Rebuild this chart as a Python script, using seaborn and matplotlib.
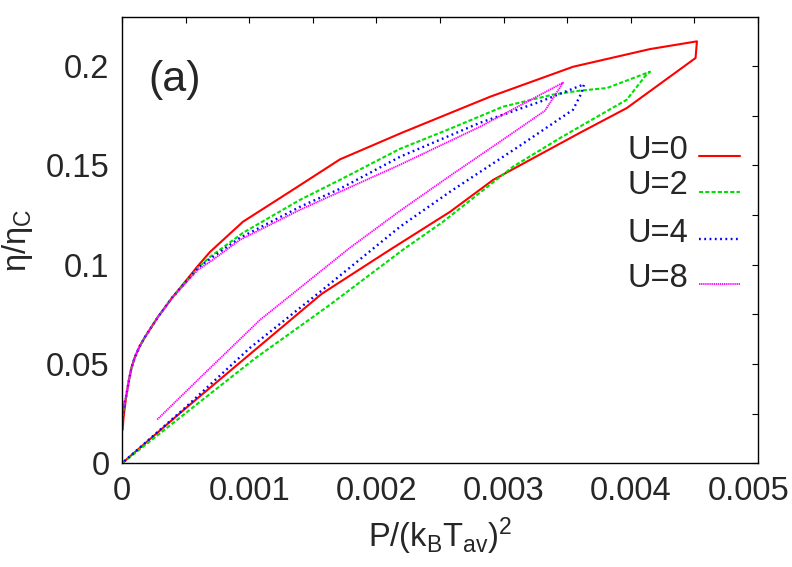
import numpy as np
import pandas as pd
import seaborn as sns
import matplotlib
matplotlib.use("Agg")
from matplotlib import pyplot as plt
from matplotlib.ticker import MultipleLocator, FuncFormatter, FormatStrFormatter

# dados: laços eficiencia x potencia
p_u0 = [0.0000047, 0.0000118, 0.0000314, 0.000055, 0.000075, 0.000102, 0.00014, 0.000181,
        0.000283, 0.000393, 0.000495, 0.000597, 0.000692, 0.000951, 0.001344, 0.001714,
        0.002201, 0.002893, 0.003546, 0.004151, 0.00452, 0.004509, 0.003968, 0.003601,
        0.002919, 0.002579, 0.002107, 0.00157, 0.001046, 0.000495, 0.0]
eta_u0 = [0.0168, 0.0228, 0.0329, 0.0420, 0.0482, 0.0536, 0.0590, 0.0636,
          0.0737, 0.0833, 0.0913, 0.0994, 0.1064, 0.1216, 0.1377, 0.1530,
          0.1664, 0.1845, 0.1996, 0.2085, 0.2124, 0.2040, 0.1788, 0.1664,
          0.1427, 0.1266, 0.1075, 0.0853, 0.0571, 0.0274, 0.0]

p_u2 = [0.0000039, 0.0000157, 0.0000314, 0.000055, 0.000075, 0.000102, 0.00014, 0.000181,
        0.000283, 0.000393, 0.000495, 0.000597, 0.000692, 0.000951, 0.001399, 0.001714,
        0.002186, 0.002579, 0.002995, 0.003388, 0.003601, 0.003813, 0.004151, 0.004112,
        0.003968, 0.003443, 0.003074, 0.002524, 0.002209, 0.001635, 0.001046, 0.0]
eta_u2 = [0.0228, 0.0294, 0.0334, 0.0420, 0.0482, 0.0536, 0.0590, 0.0636,
          0.0737, 0.0833, 0.0908, 0.0984, 0.1039, 0.1160, 0.1326, 0.1427,
          0.1583, 0.1684, 0.1795, 0.1856, 0.1876, 0.1889, 0.1971, 0.1948,
          0.1830, 0.1637, 0.1493, 0.1216, 0.1075, 0.0798, 0.0528, 0.0]

p_u4 = [0.0000039, 0.0000157, 0.0000314, 0.000055, 0.000075, 0.000102, 0.00014, 0.000181,
        0.000283, 0.000393, 0.000495, 0.000597, 0.000692, 0.000928, 0.001399, 0.001714,
        0.002186, 0.002814, 0.003286, 0.003546, 0.003632, 0.003614, 0.003546, 0.003129,
        0.002579, 0.002186, 0.001557, 0.001006, 0.000495, 0.0]
eta_u4 = [0.0228, 0.0294, 0.0334, 0.0420, 0.0482, 0.0536, 0.0590, 0.0636,
          0.0737, 0.0833, 0.0908, 0.0984, 0.1029, 0.1135, 0.1291, 0.1382,
          0.1543, 0.1714, 0.1820, 0.1886, 0.1908, 0.1866, 0.1780, 0.1599,
          0.1367, 0.1191, 0.0863, 0.0581, 0.0279, 0.0]

p_u8 = [0.0000039, 0.0000157, 0.0000314, 0.000055, 0.000075, 0.000102, 0.00014, 0.000181,
        0.000283, 0.000393, 0.000495, 0.000597, 0.000692, 0.000928, 0.001399, 0.002186,
        0.002814, 0.003467, 0.003325, 0.002972, 0.002579, 0.002186, 0.001792, 0.001085,
        0.000653, 0.000273]
eta_u8 = [0.0228, 0.0294, 0.0334, 0.0420, 0.0482, 0.0536, 0.0590, 0.0636,
          0.0737, 0.0830, 0.0903, 0.0974, 0.1014, 0.1125, 0.1276, 0.1503,
          0.1694, 0.1916, 0.1775, 0.1619, 0.1447, 0.1271, 0.1085, 0.0722,
          0.0455, 0.0218]

labels = ["U=0", "U=2", "U=4", "U=8"]
curves = [(p_u0, eta_u0), (p_u2, eta_u2), (p_u4, eta_u4), (p_u8, eta_u8)]

# estilo de cada curva (tipo gnuplot)
colors = ["#ff0000", "#00e000", "#0000ff", "#ff00ff"]
styles = ["-", (0, (3.0, 1.5)), (0, (1.3, 2.5)), (0, (1.0, 0.5))]
widths = [1.5, 1.5, 1.7, 1.3]
# posicao vertical das entradas da legenda (fracao do eixo)
leg_y = [0.683, 0.603, 0.497, 0.396]

sns.set_style("white")
plt.rcParams["font.family"] = ["Liberation Sans", "DejaVu Sans"]
plt.rcParams["mathtext.default"] = "regular"
plt.rcParams["lines.scale_dashes"] = False

fig = plt.figure(figsize=(7.92, 5.67), dpi=100)
ax = fig.add_axes([122 / 792, 1 - 463.3 / 567, 636 / 792, 446 / 567])

for (p, eta), lab, c, ls, lw in zip(curves, labels, colors, styles, widths):
    d = pd.DataFrame({"P": p, "eta": eta})
    sns.lineplot(data=d, x="P", y="eta", sort=False, estimator=None,
                 color=c, linestyle=ls, linewidth=lw, ax=ax)

# legenda manual (texto a esquerda, amostra a direita)
for lab, c, ls, lw, yy in zip(labels, colors, styles, widths, leg_y):
    ax.text(0.89, yy, lab, transform=ax.transAxes, ha="right", va="baseline",
            fontsize=23.5)
    ax.plot([0.907, 0.972], [yy + 0.005, yy + 0.005], transform=ax.transAxes,
            color=c, linestyle=ls, linewidth=lw)

ax.text(0.041, 0.86, "(a)", transform=ax.transAxes, fontsize=31, va="center")

ax.set_xlim(0, 0.005)
ax.set_ylim(0, 0.2245)
ax.xaxis.set_major_locator(MultipleLocator(0.001))
ax.xaxis.set_minor_locator(MultipleLocator(0.0005))
ax.yaxis.set_major_locator(MultipleLocator(0.05))
ax.yaxis.set_minor_locator(MultipleLocator(0.025))
# o ultimo rotulo (0.005) fica deslocado p/ caber na figura
ax.xaxis.set_major_formatter(FuncFormatter(lambda v, pos: "" if v > 0.0049 else "%g" % v))
ax.yaxis.set_major_formatter(FormatStrFormatter("%g"))

ax.tick_params(which="both", direction="in", top=True, right=True,
               length=4.5, width=0.8, color="black")
ax.tick_params(axis="x", which="major", labelsize=23.5, pad=9)
ax.tick_params(axis="y", which="major", labelsize=23.5, pad=9)
ax.annotate("0.005", xy=(0.005, 0), xycoords=("data", "axes fraction"),
            xytext=(-7, -9), textcoords="offset points", ha="center", va="top",
            fontsize=23.5)
for s in ax.spines.values():
    s.set_color("black")
    s.set_linewidth(1.0)

ax.set_xlabel(r"P/(k$_B$T$_{av}$)$^2$", fontsize=23.5, labelpad=6)
ax.set_ylabel(r"$\eta/\eta_C$", fontsize=23.5, labelpad=8)

fig.savefig("out.png", dpi=100)
